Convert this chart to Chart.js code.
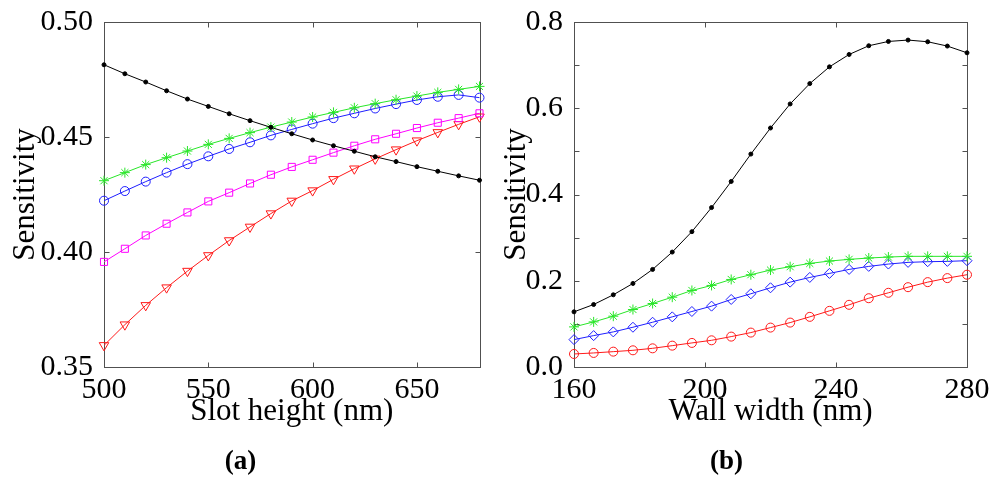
<!DOCTYPE html>
<html lang="en">
<head>
<meta charset="UTF-8">
<title>Sensitivity</title>
<script src="https://cdn.jsdelivr.net/npm/chart.js@4.4.1/dist/chart.umd.min.js"></script>
<style>
  body { margin: 0; background: #fff; }
  #wrap { position: relative; width: 994px; height: 477px; }
  .box { position: absolute; top: 0; height: 477px; }
</style>
</head>
<body>
<div id="wrap">
  <div class="box" style="left:0;width:486px"><canvas id="chartA"></canvas></div>
  <div class="box" style="left:486px;width:508px"><canvas id="chartB"></canvas></div>
</div>
<script>
// (a) slot height sweep
var slotHeight = [500, 510, 520, 530, 540, 550, 560, 570, 580, 590, 600, 610, 620, 630, 640, 650, 660, 670, 680];
var aBlack   = [0.4814, 0.4775, 0.4739, 0.4701, 0.4665, 0.4633, 0.4601, 0.4571, 0.4542, 0.4514, 0.4487, 0.4462, 0.4438, 0.4414, 0.4393, 0.4371, 0.4351, 0.4331, 0.4312];
var aGreen   = [0.4310, 0.4345, 0.4380, 0.4410, 0.4439, 0.4468, 0.4494, 0.4519, 0.4543, 0.4565, 0.4587, 0.4607, 0.4627, 0.4645, 0.4662, 0.4678, 0.4694, 0.4707, 0.4720];
var aBlue    = [0.4223, 0.4265, 0.4306, 0.4345, 0.4382, 0.4416, 0.4448, 0.4477, 0.4507, 0.4533, 0.4558, 0.4582, 0.4603, 0.4624, 0.4643, 0.4661, 0.4675, 0.4683, 0.4671];
var aMagenta = [0.3957, 0.4014, 0.4072, 0.4123, 0.4172, 0.4220, 0.4258, 0.4298, 0.4336, 0.4370, 0.4401, 0.4432, 0.4462, 0.4490, 0.4514, 0.4539, 0.4562, 0.4582, 0.4603];
var aRed     = [0.3594, 0.3684, 0.3768, 0.3845, 0.3917, 0.3985, 0.4050, 0.4109, 0.4167, 0.4222, 0.4267, 0.4316, 0.4362, 0.4405, 0.4445, 0.4484, 0.4520, 0.4555, 0.4588];
var aXTicks = [500, 550, 600, 650];
var aYTicks = [0.35, 0.40, 0.45, 0.50];
var aXMarks = [550, 600, 650];
var aYMarks = [0.40, 0.45];

// (b) wall width sweep
var wallWidth = [160, 166, 172, 178, 184, 190, 196, 202, 208, 214, 220, 226, 232, 238, 244, 250, 256, 262, 268, 274, 280];
var bBlack = [0.1279, 0.1449, 0.1674, 0.1937, 0.2263, 0.2665, 0.3139, 0.3697, 0.4302, 0.4937, 0.5542, 0.6100, 0.6572, 0.6960, 0.7247, 0.7449, 0.7549, 0.7581, 0.7542, 0.7442, 0.7286];
var bGreen = [0.0930, 0.1046, 0.1178, 0.1333, 0.1472, 0.1619, 0.1775, 0.1891, 0.2030, 0.2140, 0.2248, 0.2326, 0.2402, 0.2457, 0.2496, 0.2527, 0.2550, 0.2566, 0.2566, 0.2566, 0.2566];
var bBlue  = [0.0635, 0.0728, 0.0814, 0.0922, 0.1038, 0.1163, 0.1287, 0.1411, 0.1566, 0.1698, 0.1837, 0.1968, 0.2077, 0.2170, 0.2263, 0.2333, 0.2387, 0.2426, 0.2442, 0.2449, 0.2465];
var bRed   = [0.0302, 0.0326, 0.0356, 0.0387, 0.0433, 0.0495, 0.0558, 0.0619, 0.0705, 0.0798, 0.0914, 0.1030, 0.1163, 0.1302, 0.1442, 0.1595, 0.1721, 0.1851, 0.1968, 0.2061, 0.2140];
var bXTicks = [160, 200, 240, 280];
var bYTicks = [0.0, 0.2, 0.4, 0.6, 0.8];
var bXMarks = [200, 240];
var bYMarks = [0.1, 0.2, 0.3, 0.4, 0.5, 0.6, 0.7];

var serif = 'Liberation Serif, Times New Roman, serif';
var colors = {
  black: '#000000',
  green: 'rgb(40,230,40)',
  blue: 'rgb(30,30,255)',
  magenta: 'rgb(255,0,255)',
  red: 'rgb(255,25,25)'
};

function series(xs, ys, color, style, radius, rotation) {
  return {
    data: xs.map(function(x, i) { return { x: x, y: ys[i] }; }),
    borderColor: color,
    borderWidth: 1,
    pointStyle: style,
    pointRadius: radius,
    pointRotation: rotation || 0,
    pointBorderColor: color,
    pointBorderWidth: 1,
    pointBackgroundColor: style === 'circle' && radius < 3 ? color : 'rgba(0,0,0,0)',
    clip: false
  };
}

// box around the plot with inward tick marks, MATLAB style
var framePlugin = {
  id: 'frame',
  beforeDatasetsDraw: function(chart, args, opts) {
    var ctx = chart.ctx, a = chart.chartArea;
    var x = chart.scales.x, y = chart.scales.y;
    var L = Math.round(a.left) + 0.5, R = Math.round(a.right) + 0.5;
    var T = Math.round(a.top) + 0.5, B = Math.round(a.bottom) + 0.5;
    ctx.save();
    ctx.strokeStyle = '#505050';
    ctx.lineWidth = 1;
    ctx.strokeRect(L, T, R - L, B - T);
    ctx.beginPath();
    opts.xMarks.forEach(function(v) {
      var px = Math.round(x.getPixelForValue(v)) + 0.5;
      ctx.moveTo(px, B); ctx.lineTo(px, B - 5);
      ctx.moveTo(px, T); ctx.lineTo(px, T + 5);
    });
    opts.yMarks.forEach(function(v) {
      var py = Math.round(y.getPixelForValue(v)) + 0.5;
      ctx.moveTo(L, py); ctx.lineTo(L + 5, py);
      ctx.moveTo(R, py); ctx.lineTo(R - 5, py);
    });
    ctx.stroke();
    ctx.restore();
  }
};

function makeConfig(p) {
  return {
    type: 'line',
    data: { datasets: p.datasets },
    plugins: [framePlugin],
    options: {
      responsive: true,
      maintainAspectRatio: false,
      animation: false,
      layout: { padding: { top: 22, right: p.padRight, left: 0, bottom: 0 } },
      elements: { line: { tension: 0 } },
      plugins: {
        legend: { display: false },
        tooltip: { enabled: false },
        title: {
          display: true,
          position: 'bottom',
          text: p.panel,
          color: '#000',
          font: { family: serif, size: 27, weight: 'bold', lineHeight: 1 },
          padding: { top: 22, bottom: 1 }
        },
        frame: { xMarks: p.xMarks, yMarks: p.yMarks }
      },
      scales: {
        x: {
          type: 'linear',
          min: p.xMin,
          max: p.xMax,
          grid: { display: false },
          border: { display: false },
          afterBuildTicks: function(s) { s.ticks = p.xTicks.map(function(v) { return { value: v }; }); },
          afterFit: function(s) { s.height = 60; },
          ticks: {
            color: '#000',
            padding: 0,
            maxRotation: 0,
            autoSkip: false,
            font: { family: serif, size: 30, lineHeight: 1 }
          },
          title: {
            display: true,
            text: p.xTitle,
            color: '#000',
            padding: { top: 2, bottom: 0 },
            font: { family: serif, size: 31, lineHeight: 1 }
          }
        },
        y: {
          min: p.yMin,
          max: p.yMax,
          grid: { display: false },
          border: { display: false },
          afterBuildTicks: function(s) { s.ticks = p.yTicks.map(function(v) { return { value: v }; }); },
          afterFit: function(s) { s.width = p.yWidth; },
          ticks: {
            color: '#000',
            padding: 3,
            autoSkip: false,
            font: { family: serif, size: 30, lineHeight: 1 },
            callback: function(v) { return v.toFixed(p.digits); }
          },
          title: {
            display: true,
            text: 'Sensitivity',
            color: '#000',
            padding: { top: p.yTitlePad, bottom: 0 },
            font: { family: serif, size: 31, lineHeight: 1 }
          }
        }
      }
    }
  };
}

var configA = makeConfig({
  panel: '(a)', xTitle: 'Slot height (nm)', padRight: 5, yWidth: 104, yTitlePad: 10, digits: 2,
  xMin: 500, xMax: 680, yMin: 0.35, yMax: 0.50,
  xTicks: aXTicks, yTicks: aYTicks, xMarks: aXMarks, yMarks: aYMarks,
  datasets: [
    series(slotHeight, aBlack, colors.black, 'circle', 2),
    series(slotHeight, aGreen, colors.green, 'star', 5),
    series(slotHeight, aBlue, colors.blue, 'circle', 4.5),
    series(slotHeight, aMagenta, colors.magenta, 'rect', 5),
    series(slotHeight, aRed, colors.red, 'triangle', 5.5, 180)
  ]
});

var configB = makeConfig({
  panel: '(b)', xTitle: 'Wall width (nm)', padRight: 27, yWidth: 88, yTitlePad: 15, digits: 1,
  xMin: 160, xMax: 280, yMin: 0, yMax: 0.8,
  xTicks: bXTicks, yTicks: bYTicks, xMarks: bXMarks, yMarks: bYMarks,
  datasets: [
    series(wallWidth, bBlack, colors.black, 'circle', 2),
    series(wallWidth, bGreen, colors.green, 'star', 5),
    series(wallWidth, bBlue, colors.blue, 'rectRot', 5),
    series(wallWidth, bRed, colors.red, 'circle', 4.5)
  ]
});

window.onload = function() {
  new Chart(document.getElementById('chartA'), configA);
  new Chart(document.getElementById('chartB'), configB);
};
</script>
</body>
</html>
